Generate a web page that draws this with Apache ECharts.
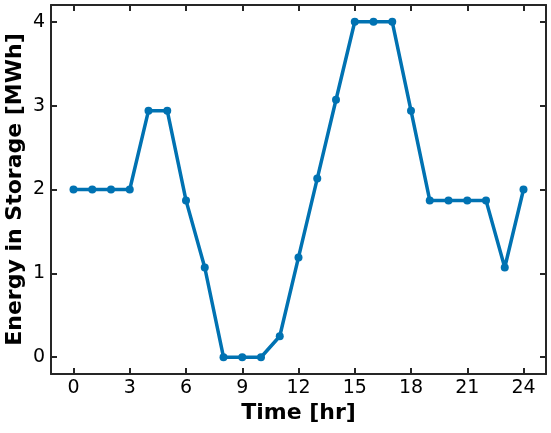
<!DOCTYPE html>
<html>
<head>
<meta charset="utf-8">
<script src="https://cdn.jsdelivr.net/npm/echarts@6/dist/echarts.min.js"></script>
<style>html,body{margin:0;padding:0;background:#fff;}#c{width:551px;height:433px;}</style>
</head>
<body>
<div id="c"></div>
<script>
var hours = [0,1,2,3,4,5,6,7,8,9,10,11,12,13,14,15,16,17,18,19,20,21,22,23,24];
var energy = [2.0,2.0,2.0,2.0,2.94,2.94,1.87,1.07,0,0,0,0.25,1.19,2.13,3.07,4.0,4.0,4.0,2.94,1.87,1.87,1.87,1.87,1.07,2.0];
var xTicks = [0,3,6,9,12,15,18,21,24];
var yTicks = [0,1,2,3,4];

var axisColor = '#262626';
var font = 'DejaVu Sans';
var chart = echarts.init(document.getElementById('c'), null, {renderer:'canvas'});
var tick = function(vals){
  return {show:true, inside:true, length:6, customValues:vals, lineStyle:{color:axisColor, width:2}};
};
var common = function(extra){
  return Object.assign({
    type:'value',
    axisLine:{show:true, onZero:false, lineStyle:{color:axisColor, width:2}},
    splitLine:{show:false}
  }, extra);
};
chart.setOption({
  animation:false,
  grid:{left:51, right:5, top:5, bottom:59, containLabel:false, outerBoundsMode:'none'},
  xAxis:[
    common({position:'bottom', min:-1.2, max:25.2,
      axisTick:tick(xTicks),
      axisLabel:{customValues:xTicks, color:'#000', fontFamily:font, fontSize:19, margin:5},
      name:'Time [hr]', nameLocation:'middle', nameGap:28, nameMoveOverlap:false,
      nameTextStyle:{color:'#000', fontFamily:font, fontSize:22, fontWeight:'bold'}}),
    common({position:'top', min:-1.2, max:25.2,
      axisTick:tick(xTicks),
      axisLabel:{show:false}})
  ],
  yAxis:[
    common({position:'left', min:-0.2, max:4.2,
      axisTick:tick(yTicks),
      axisLabel:{customValues:yTicks, color:'#000', fontFamily:font, fontSize:19, margin:6},
      name:'Energy in Storage [MWh]', nameLocation:'middle', nameGap:25, nameRotate:90, nameMoveOverlap:false,
      nameTextStyle:{color:'#000', fontFamily:font, fontSize:22, fontWeight:'bold'}}),
    common({position:'right', min:-0.2, max:4.2,
      axisTick:tick(yTicks),
      axisLabel:{show:false}})
  ],
  series:[{
    type:'line',
    data: hours.map(function(h,i){return [h, energy[i]];}),
    lineStyle:{color:'#0072B2', width:3.5},
    itemStyle:{color:'#0072B2'},
    symbol:'circle', symbolSize:8, showSymbol:true
  }]
});
</script>
</body>
</html>
